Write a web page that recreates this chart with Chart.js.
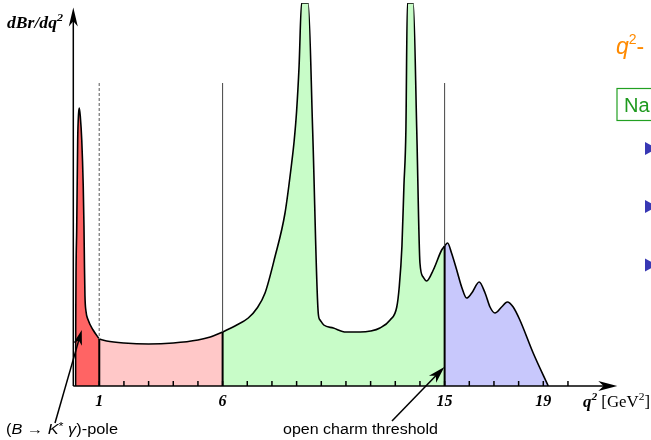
<!DOCTYPE html>
<html>
<head>
<meta charset="utf-8">
<script src="https://cdn.jsdelivr.net/npm/chart.js@4/dist/chart.umd.min.js"></script>
<style>
  html, body { margin: 0; padding: 0; background: #fff; overflow: hidden; }
  canvas { display: block; }
</style>
</head>
<body>
<canvas id="spectrum" width="651" height="440"></canvas>
<script>
// q² [GeV²] and dBr/dq² (arbitrary units) for each region of the spectrum
const poleQ2   = [0.04, 0.045, 0.06, 0.085, 0.125, 0.16, 0.19, 0.23, 0.29, 0.35, 0.38, 0.40, 0.42, 0.46, 0.55, 0.75, 1.0];
const poleVal  = [0,    60,    120,  156,   246,   272,  278,  270,  246,  200,  160,  120,  90,   75,   66,   56,   47];

const lowQ2    = [1.0, 1.3, 2.0, 3.0, 4.0, 5.0, 5.5, 6.0];
const lowVal   = [47,  45,  43,  42,  43,  46,  49,  54];

const charmQ2  = [6.0, 6.5, 7.04, 7.4, 7.72, 8.12, 8.53, 8.8, 8.9, 9.0, 9.1, 9.2, 9.47, 9.65, 9.88, 9.95, 10.1, 10.49, 11.0, 11.57, 12.0, 12.38, 12.79, 13.06, 13.16, 13.27, 13.35, 13.43, 13.49, 13.73, 13.87, 14.0, 14.13, 14.27, 14.54, 14.88, 15.0];
const charmVal = [54,  60,  68,   78,  93,   129,  173,  223, 245, 275, 320, 383, 383,  256,  72,   66,   61,   58,    54,   54,    55,   58,    66,    79,    99,    140,   200,   256,   383,   383,   256,   123,  109,   105,   116,   136,   140];

const highQ2   = [15.0, 15.12, 15.28, 15.49, 15.69, 15.89, 16.1, 16.4, 16.64, 16.84, 17.04, 17.31, 17.54, 17.78, 18.05, 18.59, 19.2];
const highVal  = [140,  143,   133,   116,   99,    88,    93,   104,  93,    79,    73,    79,    84,    79,    66,    33,    0];

// region borders and axis ticks
const boundaries  = [1, 6, 15];
const minorTicks  = [1, 2, 3, 4, 5, 6, 7, 8, 9, 10, 11, 12, 13, 14, 15, 16, 17, 18, 19, 20];
const labeledTicks = [1, 6, 15, 19];

const regionColors = ['#ff6464', '#ffc8c8', '#c8fcc8', '#c8c8fc'];

function toPoints(xs, ys) {
  return xs.map((x, i) => ({ x: x, y: ys[i] }));
}

const regions = [
  toPoints(poleQ2, poleVal),
  toPoints(lowQ2, lowVal),
  toPoints(charmQ2, charmVal),
  toPoints(highQ2, highVal)
];

// value of the curve where a region starts
function valueAt(q2) {
  for (const r of regions) {
    if (r[0].x === q2) return r[0].y;
  }
  return 0;
}

function arrowHead(ctx, tipX, tipY, fromX, fromY, len, halfW) {
  const dx = tipX - fromX, dy = tipY - fromY;
  const d = Math.hypot(dx, dy);
  const ux = dx / d, uy = dy / d;
  const px = -uy, py = ux;
  const bx = tipX - ux * len, by = tipY - uy * len;
  const nx = tipX - ux * len * 0.72, ny = tipY - uy * len * 0.72;
  ctx.beginPath();
  ctx.moveTo(tipX, tipY);
  ctx.lineTo(bx + px * halfW, by + py * halfW);
  ctx.lineTo(nx, ny);
  ctx.lineTo(bx - px * halfW, by - py * halfW);
  ctx.closePath();
  ctx.fill();
}

function arrow(ctx, x0, y0, x1, y1, len, halfW, width) {
  ctx.save();
  ctx.strokeStyle = '#000';
  ctx.fillStyle = '#000';
  ctx.lineWidth = width;
  const d = Math.hypot(x1 - x0, y1 - y0);
  const ex = x1 - (x1 - x0) / d * len * 0.6, ey = y1 - (y1 - y0) / d * len * 0.6;
  ctx.beginPath();
  ctx.moveTo(x0, y0);
  ctx.lineTo(ex, ey);
  ctx.stroke();
  arrowHead(ctx, x1, y1, x0, y0, len, halfW);
  ctx.restore();
}

// draws a sequence of styled text runs, squeezed or stretched to a given width
function drawRuns(ctx, runs, x, baseline, targetWidth) {
  let total = 0;
  for (const r of runs) { ctx.font = r.font; total += ctx.measureText(r.text).width; }
  const s = targetWidth ? targetWidth / total : 1;
  ctx.save();
  ctx.translate(x, baseline);
  ctx.scale(s, 1);
  let cx = 0;
  for (const r of runs) {
    ctx.font = r.font;
    ctx.fillStyle = r.color || '#000';
    ctx.fillText(r.text, cx, r.dy || 0);
    cx += ctx.measureText(r.text).width;
  }
  ctx.restore();
}

const decorations = {
  id: 'decorations',
  afterDatasetsDraw(chart) {
    const ctx = chart.ctx;
    const xs = chart.scales.x, ys = chart.scales.y;
    const area = chart.chartArea;
    const base = ys.getPixelForValue(0);
    const markerTop = ys.getPixelForValue(303);
    const axisX = area.left - 1.3;

    ctx.save();
    ctx.textBaseline = 'alphabetic';

    // region borders: solid below the curve, light line above it
    boundaries.forEach((b, i) => {
      const px = xs.getPixelForValue(b);
      const py = ys.getPixelForValue(valueAt(b));
      ctx.strokeStyle = i === 0 ? '#888' : '#444';
      ctx.lineWidth = i === 0 ? 1.4 : 1;
      ctx.setLineDash(i === 0 ? [3, 2] : []);
      ctx.beginPath();
      ctx.moveTo(px, markerTop);
      ctx.lineTo(px, py);
      ctx.stroke();
      ctx.setLineDash([]);
      ctx.strokeStyle = '#000';
      ctx.lineWidth = 2;
      ctx.beginPath();
      ctx.moveTo(px, base);
      ctx.lineTo(px, py);
      ctx.stroke();
    });

    // axes
    ctx.strokeStyle = '#000';
    ctx.fillStyle = '#000';
    ctx.lineWidth = 1.5;
    const xEnd = area.right;
    ctx.beginPath();
    ctx.moveTo(axisX, base);
    ctx.lineTo(xEnd - 8, base);
    ctx.stroke();
    arrowHead(ctx, xEnd, base, axisX, base, 19, 5);
    ctx.beginPath();
    ctx.moveTo(axisX, base);
    ctx.lineTo(axisX, 20);
    ctx.stroke();
    arrowHead(ctx, axisX, 7.5, axisX, base, 19, 4.5);

    // tick marks
    ctx.lineWidth = 1.5;
    minorTicks.forEach(t => {
      const px = xs.getPixelForValue(t);
      ctx.beginPath();
      ctx.moveTo(px, base);
      ctx.lineTo(px, base - 5);
      ctx.stroke();
    });

    // tick labels
    ctx.font = 'bold italic 16px "Liberation Serif"';
    ctx.textAlign = 'center';
    labeledTicks.forEach(t => {
      ctx.fillText(String(t), xs.getPixelForValue(t), base + 20);
    });
    ctx.textAlign = 'left';

    // axis titles
    drawRuns(ctx, [
      { text: 'dBr/dq', font: 'bold italic 16px "Liberation Serif"' },
      { text: '2', font: 'bold italic 11px "Liberation Serif"', dy: -7 }
    ], 7, 28, 56);
    drawRuns(ctx, [
      { text: 'q', font: 'bold italic 16px "Liberation Serif"' },
      { text: '2', font: 'bold italic 11px "Liberation Serif"', dy: -7 },
      { text: ' [GeV', font: '16px "Liberation Serif"' },
      { text: '2', font: '11px "Liberation Serif"', dy: -7 },
      { text: ']', font: '16px "Liberation Serif"' }
    ], 583, 407, 67);

    // annotations
    const sans = '"Liberation Sans"';
    drawRuns(ctx, [
      { text: '(', font: '14px ' + sans },
      { text: 'B', font: 'italic 14px ' + sans },
      { text: ' \u2192 ', font: '14px ' + sans },
      { text: 'K', font: 'italic 14px ' + sans },
      { text: '*', font: '11px ' + sans, dy: -4 },
      { text: ' ', font: '14px ' + sans },
      { text: '\u03B3', font: 'italic 14px ' + sans },
      { text: ')-pole', font: '14px ' + sans }
    ], 6, 434, 112);
    drawRuns(ctx, [{ text: 'open charm threshold', font: '14px ' + sans }], 283, 434, 155);

    arrow(ctx, 55, 423, xs.getPixelForValue(0.29), ys.getPixelForValue(56), 15, 4.5, 1.5);
    arrow(ctx, 392, 421, xs.getPixelForValue(14.99), ys.getPixelForValue(19), 17, 5, 1.5);

    // neighbouring slide content
    drawRuns(ctx, [
      { text: 'q', font: 'italic 23px ' + sans, color: '#ff8a00' },
      { text: '2', font: '14px ' + sans, color: '#ff8a00', dy: -10 },
      { text: '-', font: '23px ' + sans, color: '#ff8a00' }
    ], 616, 54);
    ctx.strokeStyle = '#22a022';
    ctx.lineWidth = 1.2;
    ctx.strokeRect(617, 88.5, 60, 32);
    drawRuns(ctx, [{ text: 'Na', font: '20px ' + sans, color: '#1f9a1f' }], 624, 112);
    ctx.fillStyle = '#3838b4';
    [148.5, 206.5, 265].forEach(cy => {
      ctx.beginPath();
      ctx.moveTo(645, cy - 6.5);
      ctx.lineTo(657, cy);
      ctx.lineTo(645, cy + 6.5);
      ctx.closePath();
      ctx.fill();
    });

    ctx.restore();
  }
};

new Chart(document.getElementById('spectrum'), {
  type: 'line',
  data: {
    datasets: regions.map((pts, i) => ({
      data: pts,
      backgroundColor: regionColors[i],
      borderColor: '#000',
      borderWidth: 1.6,
      fill: 'origin',
      pointRadius: 0,
      cubicInterpolationMode: 'monotone'
    }))
  },
  options: {
    responsive: false,
    animation: false,
    layout: { padding: { left: 74.6, right: 33.7, top: 3, bottom: 54 } },
    scales: {
      x: { type: 'linear', min: 0, max: 22, display: false },
      y: { min: 0, max: 383, display: false }
    },
    plugins: { legend: { display: false }, tooltip: { enabled: false } }
  },
  plugins: [decorations]
});
</script>
</body>
</html>
